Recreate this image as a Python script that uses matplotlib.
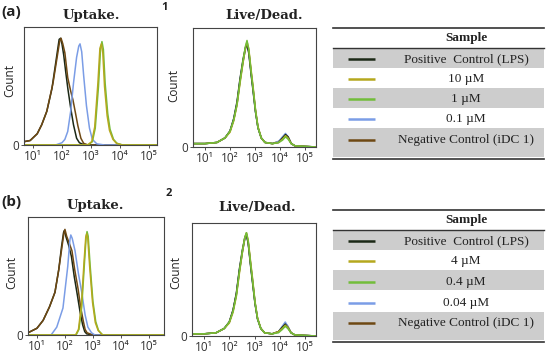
import matplotlib
matplotlib.use("Agg")
import matplotlib.pyplot as plt
from matplotlib.patches import Rectangle
from matplotlib.ticker import FixedLocator, NullLocator

# ---------------- data ----------------
SERIES_A = ["Positive  Control (LPS)", "10 \u00b5M", "1 \u00b5M", "0.1 \u00b5M", "Negative Control (iDC 1)"]
SERIES_B = ["Positive  Control (LPS)", "4 \u00b5M", "0.4 \u00b5M", "0.04 \u00b5M", "Negative Control (iDC 1)"]
COLORS = ["#1b2816", "#b5a81e", "#72bd3a", "#7b9de6", "#6e4813"]
XTICKS = [1e1, 1e2, 1e3, 1e4, 1e5]
XTICKLABELS = ["10\u00b9", "10\u00b2", "10\u00b3", "10\u2074", "10\u2075"]

# (a) Uptake
A_UP_POS_X = [5, 8, 14, 20, 30, 45, 60, 72, 80, 90, 100, 115, 135, 160, 200, 250, 320, 400, 600, 190000]
A_UP_POS_Y = [0.03, 0.04, 0.10, 0.18, 0.30, 0.50, 0.72, 0.86, 0.94, 0.95, 0.90, 0.80, 0.65, 0.50, 0.33, 0.18, 0.06, 0.02, 0.0, 0.0]
A_UP_10_X = [5, 760, 1070, 1350, 1740, 2040, 2290, 2570, 2950, 3630, 4370, 5750, 7600, 12000, 190000]
A_UP_10_Y = [0, 0, 0.03, 0.16, 0.55, 0.86, 0.90, 0.82, 0.52, 0.26, 0.13, 0.05, 0.015, 0, 0]
A_UP_1_X = [5, 800, 1120, 1410, 1820, 2140, 2400, 2690, 3090, 3800, 4570, 6030, 7940, 12600, 190000]
A_UP_1_Y = [0, 0, 0.03, 0.15, 0.52, 0.85, 0.92, 0.85, 0.55, 0.28, 0.14, 0.05, 0.015, 0, 0]
A_UP_01_X = [5, 60, 100, 126, 158, 200, 250, 320, 380, 420, 480, 560, 700, 890, 1120, 1600, 3000, 190000]
A_UP_01_Y = [0, 0, 0.02, 0.05, 0.12, 0.30, 0.55, 0.78, 0.88, 0.90, 0.83, 0.62, 0.35, 0.15, 0.05, 0.01, 0, 0]
A_UP_NEG_X = [5, 8, 14, 20, 30, 49, 68, 83, 93, 107, 126, 158, 200, 240, 300, 355, 450, 560, 800, 190000]
A_UP_NEG_Y = [0.03, 0.04, 0.10, 0.18, 0.30, 0.55, 0.78, 0.92, 0.95, 0.90, 0.82, 0.60, 0.48, 0.40, 0.27, 0.17, 0.06, 0.015, 0.0, 0.0]

# (b) Uptake
B_UP_POS_X = [4.8, 10, 16.6, 28, 44, 60, 76, 89, 96, 110, 135, 170, 215, 280, 350, 430, 510, 600, 1000, 347000]
B_UP_POS_Y = [0.02, 0.06, 0.13, 0.25, 0.38, 0.58, 0.79, 0.91, 0.93, 0.87, 0.80, 0.70, 0.52, 0.35, 0.20, 0.09, 0.03, 0.01, 0, 0]
B_UP_4_X = [4.8, 240, 305, 385, 485, 555, 600, 655, 770, 970, 1220, 1540, 2200, 347000]
B_UP_4_Y = [0, 0, 0.05, 0.26, 0.66, 0.87, 0.90, 0.86, 0.60, 0.29, 0.11, 0.04, 0, 0]
B_UP_04_X = [4.8, 251, 316, 398, 501, 575, 617, 676, 794, 1000, 1259, 1585, 2239, 347000]
B_UP_04_Y = [0, 0, 0.05, 0.25, 0.65, 0.88, 0.92, 0.88, 0.62, 0.30, 0.12, 0.04, 0, 0]
B_UP_004_X = [4.8, 32, 51, 85, 126, 151, 162, 182, 229, 302, 398, 525, 661, 891, 1175, 347000]
B_UP_004_Y = [0, 0, 0.07, 0.24, 0.61, 0.85, 0.89, 0.86, 0.75, 0.55, 0.38, 0.18, 0.07, 0.02, 0, 0]
B_UP_NEG_X = [4.8, 10, 16.6, 28, 44, 60, 78, 91, 100, 115, 141, 178, 224, 295, 363, 447, 525, 617, 1000, 347000]
B_UP_NEG_Y = [0.02, 0.06, 0.13, 0.25, 0.38, 0.58, 0.78, 0.90, 0.94, 0.88, 0.82, 0.75, 0.58, 0.41, 0.25, 0.13, 0.05, 0.02, 0, 0]

# Live/Dead (shared intensity grid)
LD_X = [3.3, 10, 30, 63, 100, 141, 191, 251, 331, 417, 479, 562, 708, 832, 1047, 1318, 1778, 2512,
        5012, 8913, 12589, 16596, 20893, 28184, 39811, 275000]
A_LD_POS = [0.03, 0.03, 0.04, 0.08, 0.14, 0.25, 0.40, 0.60, 0.77, 0.88, 0.90, 0.83, 0.63, 0.50, 0.31, 0.17, 0.08, 0.04, 0.03, 0.04, 0.08, 0.11, 0.09, 0.03, 0.01, 0.0]
A_LD_10 = [0.03, 0.03, 0.04, 0.08, 0.13, 0.23, 0.37, 0.56, 0.74, 0.88, 0.93, 0.87, 0.67, 0.54, 0.33, 0.18, 0.08, 0.04, 0.03, 0.04, 0.07, 0.10, 0.08, 0.03, 0.01, 0.0]
A_LD_1 = [0.03, 0.03, 0.04, 0.08, 0.14, 0.24, 0.38, 0.58, 0.76, 0.89, 0.94, 0.86, 0.65, 0.52, 0.32, 0.17, 0.08, 0.04, 0.03, 0.04, 0.06, 0.09, 0.07, 0.03, 0.01, 0.0]
A_LD_01 = [0.03, 0.03, 0.04, 0.08, 0.14, 0.25, 0.39, 0.59, 0.76, 0.87, 0.91, 0.84, 0.64, 0.51, 0.31, 0.17, 0.08, 0.04, 0.03, 0.05, 0.09, 0.12, 0.09, 0.03, 0.01, 0.0]
A_LD_NEG = [0.03, 0.03, 0.04, 0.08, 0.14, 0.24, 0.38, 0.58, 0.75, 0.87, 0.91, 0.85, 0.65, 0.52, 0.32, 0.17, 0.08, 0.04, 0.03, 0.05, 0.08, 0.11, 0.09, 0.03, 0.01, 0.0]
B_LD_POS = [0.02, 0.02, 0.03, 0.07, 0.13, 0.24, 0.40, 0.62, 0.80, 0.92, 0.94, 0.86, 0.64, 0.50, 0.30, 0.16, 0.07, 0.03, 0.02, 0.04, 0.08, 0.11, 0.08, 0.03, 0.01, 0.0]
B_LD_4 = [0.02, 0.02, 0.03, 0.07, 0.12, 0.22, 0.37, 0.58, 0.78, 0.92, 0.96, 0.89, 0.68, 0.54, 0.32, 0.17, 0.07, 0.03, 0.02, 0.04, 0.07, 0.10, 0.08, 0.03, 0.01, 0.0]
B_LD_04 = [0.02, 0.02, 0.03, 0.07, 0.13, 0.23, 0.38, 0.60, 0.79, 0.92, 0.96, 0.88, 0.66, 0.52, 0.31, 0.16, 0.07, 0.03, 0.02, 0.03, 0.06, 0.09, 0.07, 0.03, 0.01, 0.0]
B_LD_004 = [0.02, 0.02, 0.03, 0.07, 0.13, 0.24, 0.39, 0.61, 0.79, 0.91, 0.94, 0.87, 0.65, 0.51, 0.31, 0.16, 0.07, 0.03, 0.02, 0.04, 0.09, 0.13, 0.09, 0.03, 0.01, 0.0]
B_LD_NEG = [0.02, 0.02, 0.03, 0.07, 0.13, 0.24, 0.39, 0.60, 0.78, 0.91, 0.95, 0.87, 0.66, 0.52, 0.31, 0.16, 0.07, 0.03, 0.02, 0.04, 0.08, 0.12, 0.09, 0.03, 0.01, 0.0]

# ---------------- figure ----------------
W, H = 550, 362
fig = plt.figure(figsize=(W / 100, H / 100), dpi=100)
SANS = ["Open Sans", "DejaVu Sans"]
SERIF_T = "DejaVu Serif"
SERIF = "Liberation Serif"


def px_axes(x0, y0, x1, y1):
    return fig.add_axes([x0 / W, 1 - y1 / H, (x1 - x0) / W, (y1 - y0) / H])


def style(ax, xlim, lab_xy):
    ax.set_xscale("log")
    ax.set_xlim(*xlim)
    ax.set_ylim(0, 1.05)
    ax.xaxis.set_major_locator(FixedLocator(XTICKS))
    ax.xaxis.set_minor_locator(NullLocator())
    ax.set_xticklabels(XTICKLABELS, fontsize=8.5, family=SANS, color="#222222")
    ax.set_yticks([0])
    ax.set_yticklabels(["0"], fontsize=8.5, family=SANS, color="#222222")
    ax.tick_params(length=2, width=0.6, pad=1.5, colors="#333333")
    ax.set_ylabel("Count", fontsize=8.5, family=SANS, color="#222222")
    ax.yaxis.set_label_coords(*lab_xy)
    for s in ax.spines.values():
        s.set_linewidth(0.8)
        s.set_color("#444444")


def draw_up(ax, xs, ys):
    for i in [0, 4, 3, 2, 1]:
        ax.plot(xs[i], ys[i], color=COLORS[i], lw=1.1, solid_joinstyle="round")


def draw_ld(ax, ys):
    for i in [4, 3, 0, 1, 2]:
        ax.plot(LD_X, ys[i], color=COLORS[i], lw=1.1, solid_joinstyle="round")


# (a) uptake
ax1 = px_axes(24, 27, 157, 145)
draw_up(ax1, [A_UP_POS_X, A_UP_10_X, A_UP_1_X, A_UP_01_X, A_UP_NEG_X],
        [A_UP_POS_Y, A_UP_10_Y, A_UP_1_Y, A_UP_01_Y, A_UP_NEG_Y])
style(ax1, (10 ** 0.69, 10 ** 5.28), (-0.06, 0.55))

# (a) live/dead
ax2 = px_axes(193, 28, 316, 147)
draw_ld(ax2, [A_LD_POS, A_LD_10, A_LD_1, A_LD_01, A_LD_NEG])
style(ax2, (10 ** 0.52, 10 ** 5.44), (-0.10, 0.52))

# (b) uptake
ax3 = px_axes(28, 217, 164, 335)
draw_up(ax3, [B_UP_POS_X, B_UP_4_X, B_UP_04_X, B_UP_004_X, B_UP_NEG_X],
        [B_UP_POS_Y, B_UP_4_Y, B_UP_04_Y, B_UP_004_Y, B_UP_NEG_Y])
style(ax3, (10 ** 0.68, 10 ** 5.54), (-0.07, 0.53))

# (b) live/dead
ax4 = px_axes(192, 223, 316, 336)
draw_ld(ax4, [B_LD_POS, B_LD_4, B_LD_04, B_LD_004, B_LD_NEG])
style(ax4, (10 ** 0.52, 10 ** 5.44), (-0.075, 0.56))

# overlay in pixel coordinates for labels and tables
ov = fig.add_axes([0, 0, 1, 1], zorder=-1)
ov.set_xlim(0, W)
ov.set_ylim(H, 0)
ov.axis("off")

ov.text(1, 12, "(a)", fontsize=11, fontweight="bold", family=SANS, va="center", ha="left", color="#222222")
ov.text(1, 202, "(b)", fontsize=11, fontweight="bold", family=SANS, va="center", ha="left", color="#222222")
ov.text(165, 8, "1", fontsize=8, fontweight="bold", family=SANS, va="center", ha="center", color="#222222")
ov.text(169, 193, "2", fontsize=8, fontweight="bold", family=SANS, va="center", ha="center", color="#222222")
for (x, y, t) in [(91, 15, "Uptake."), (264, 15, "Live/Dead."), (95, 205, "Uptake."), (257, 207, "Live/Dead.")]:
    ov.text(x, y, t, fontsize=9.5, fontweight="bold", family=SERIF_T, va="center", ha="center", color="#222222")
for (x, y, t) in [(230, 44, "Live"), (287, 118, "Dead"), (230, 234, "Live"), (287, 312, "Dead")]:
    ov.text(x, y, t, fontsize=8.5, family=SERIF, va="center", ha="center", color="#222222")


def table(top, sep, bounds, text_y, bottom, labels):
    x0, x1 = 333, 544
    for k in range(5):
        if k % 2 == 0:
            ov.add_patch(Rectangle((x0, bounds[k]), x1 - x0, bounds[k + 1] - bounds[k],
                                   facecolor="#cdcdcd", edgecolor="none"))
    ov.plot([x0, x1], [top, top], color="#333333", lw=1.2)
    ov.plot([x0, x1], [sep, sep], color="#333333", lw=1.0)
    ov.plot([x0, x1], [bottom, bottom], color="#333333", lw=1.2)
    ov.text(466, (top + sep) / 2 + 0.5, "Sample", fontsize=9.5, fontweight="bold", family=SERIF,
            ha="center", va="center", color="#222222")
    for k in range(5):
        ov.plot([348, 375], [text_y[k], text_y[k]], color=COLORS[k], lw=1.8, solid_capstyle="butt")
        ov.text(466, text_y[k], labels[k], fontsize=9.5, family=SERIF, ha="center", va="center",
                color="#222222")


table(28, 48, [48, 68, 88, 108, 128, 157], [59, 79, 99, 119, 140], 159, SERIES_A)
table(210, 230, [230, 250, 270, 290, 312, 340], [241, 261, 282, 303, 323], 342, SERIES_B)

fig.savefig("out.png", dpi=100)
